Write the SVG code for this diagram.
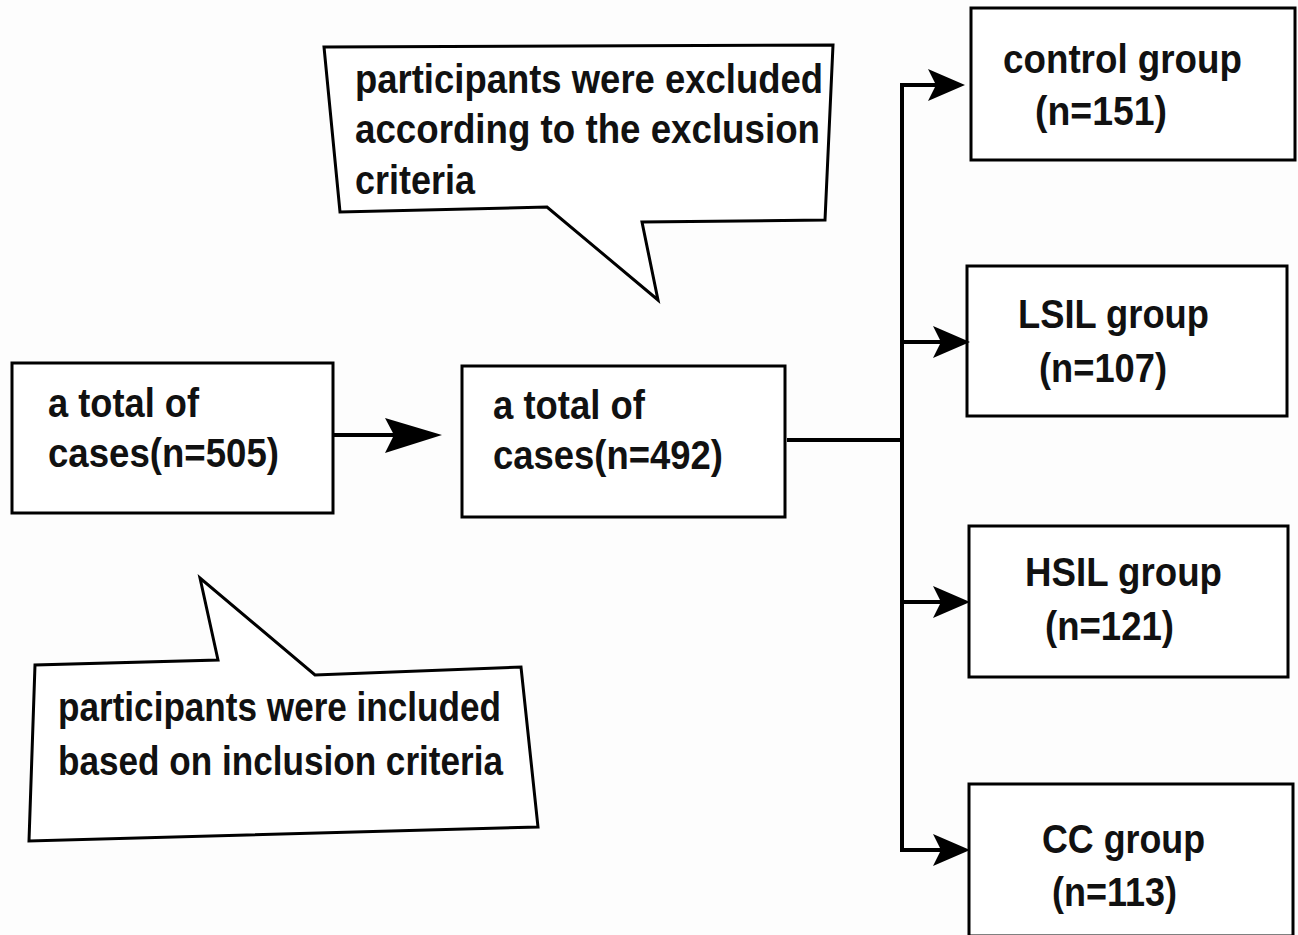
<svg xmlns="http://www.w3.org/2000/svg" width="1298" height="935" viewBox="0 0 1298 935">
<style>
.box{fill:#fff;stroke:#000;stroke-width:3}
.call{fill:#fff;stroke:#000;stroke-width:3;stroke-linejoin:miter}
.t{font-family:"Liberation Sans",Arial,sans-serif;font-weight:bold;font-size:41px;fill:#111}
.ln{fill:none;stroke:#000;stroke-width:4}
.hd{fill:#000}
</style>
<defs>
<path id="head" d="M0,0 L-37,-16 L-29,0 L-37,16 Z"/>
</defs>
<rect width="1298" height="935" fill="#fdfdfd"/>

<g id="callout-excluded">
<polygon class="call" points="324,47 833,45 825,220 642,222 658,300 547,207 340,212"/>
<text class="t" x="355" y="93" textLength="468" lengthAdjust="spacingAndGlyphs">participants were excluded</text>
<text class="t" x="355" y="143" textLength="465" lengthAdjust="spacingAndGlyphs">according to the exclusion</text>
<text class="t" x="355" y="194" textLength="120" lengthAdjust="spacingAndGlyphs">criteria</text>
</g>

<g id="callout-included">
<polygon class="call" points="200,578 218,660 35,665 29,841 538,827 521,667 315,675"/>
<text class="t" x="58" y="721" textLength="443" lengthAdjust="spacingAndGlyphs">participants were included</text>
<text class="t" x="58" y="775" textLength="445" lengthAdjust="spacingAndGlyphs">based on inclusion criteria</text>
</g>

<g id="node-total505">
<rect class="box" x="12" y="363" width="321" height="150"/>
<text class="t" x="48" y="417" textLength="151" lengthAdjust="spacingAndGlyphs">a total of</text>
<text class="t" x="48" y="467" textLength="231" lengthAdjust="spacingAndGlyphs">cases(n=505)</text>
</g>

<g id="node-total492">
<rect class="box" x="462" y="366" width="323" height="151"/>
<text class="t" x="493" y="419" textLength="152" lengthAdjust="spacingAndGlyphs">a total of</text>
<text class="t" x="493" y="469" textLength="230" lengthAdjust="spacingAndGlyphs">cases(n=492)</text>
</g>

<g id="node-control">
<rect class="box" x="971" y="8" width="324" height="152"/>
<text class="t" x="1003" y="73" textLength="239" lengthAdjust="spacingAndGlyphs">control group</text>
<text class="t" x="1035" y="125" textLength="132" lengthAdjust="spacingAndGlyphs">(n=151)</text>
</g>

<g id="node-lsil">
<rect class="box" x="967" y="266" width="320" height="150"/>
<text class="t" x="1018" y="328" textLength="191" lengthAdjust="spacingAndGlyphs">LSIL group</text>
<text class="t" x="1039" y="382" textLength="128" lengthAdjust="spacingAndGlyphs">(n=107)</text>
</g>

<g id="node-hsil">
<rect class="box" x="969" y="526" width="319" height="151"/>
<text class="t" x="1025" y="586" textLength="197" lengthAdjust="spacingAndGlyphs">HSIL group</text>
<text class="t" x="1045" y="640" textLength="129" lengthAdjust="spacingAndGlyphs">(n=121)</text>
</g>

<g id="node-cc">
<rect class="box" x="969" y="784" width="324" height="152"/>
<text class="t" x="1042" y="853" textLength="163" lengthAdjust="spacingAndGlyphs">CC group</text>
<text class="t" x="1052" y="906" textLength="125" lengthAdjust="spacingAndGlyphs">(n=113)</text>
</g>

<g id="connectors">
<line class="ln" x1="333" y1="435" x2="400" y2="435"/>
<path class="hd" d="M442,435 L385,418 L394,435 L385,453 Z"/>
<line class="ln" x1="787" y1="440" x2="902" y2="440"/>
<line class="ln" x1="902" y1="83" x2="902" y2="852"/>
<line class="ln" x1="900" y1="85" x2="940" y2="85"/>
<use href="#head" class="hd" transform="translate(965,85)"/>
<line class="ln" x1="902" y1="342" x2="945" y2="342"/>
<use href="#head" class="hd" transform="translate(970,342)"/>
<line class="ln" x1="902" y1="602" x2="945" y2="602"/>
<use href="#head" class="hd" transform="translate(970,602)"/>
<line class="ln" x1="900" y1="850" x2="945" y2="850"/>
<use href="#head" class="hd" transform="translate(970,850)"/>
</g>
</svg>
